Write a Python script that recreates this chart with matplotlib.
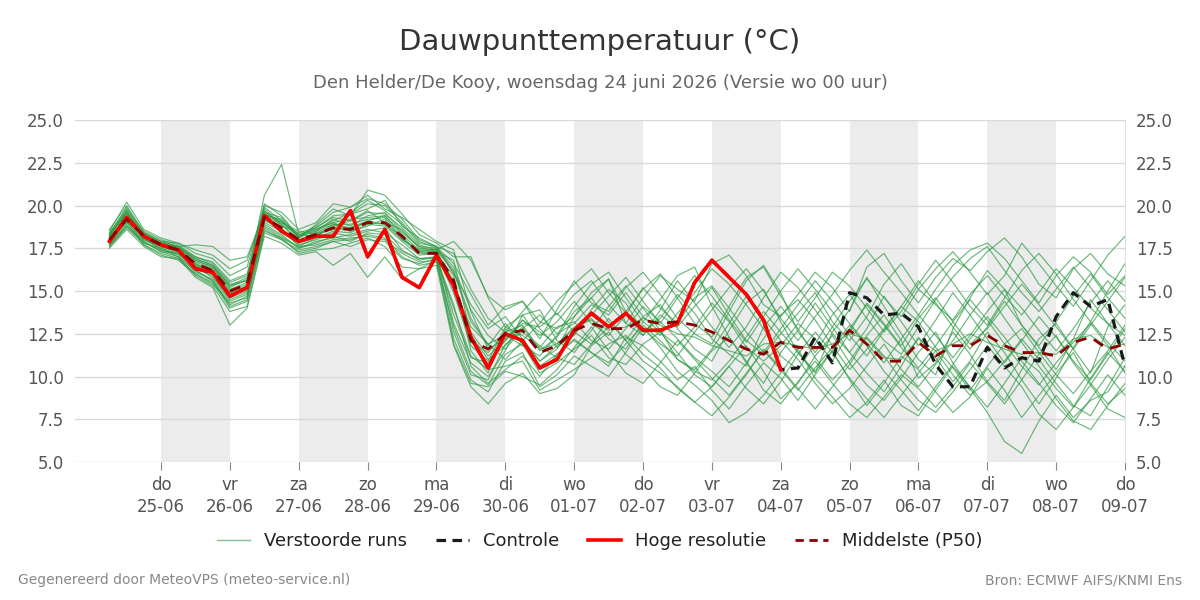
import matplotlib

matplotlib.use("Agg")
import matplotlib.pyplot as plt
import numpy as np
import pandas as pd
from matplotlib.lines import Line2D

plt.rcParams["font.family"] = ["DejaVu Sans"]

# 6-hourly steps, 24-06 06:00 .. 09-07 00:00 (60 steps)
start = "2026-06-24 06:00"
n_steps = 60
day_names = ["ma", "di", "wo", "do", "vr", "za", "zo"]

hires = [
    17.9, 19.3, 18.2, 17.7, 17.4, 16.3, 16.1, 14.7, 15.2, 19.4, 18.5, 17.9, 18.2, 18.2, 19.7, 17.0, 18.6, 15.8, 15.2, 17.1,
    15.3, 12.3, 10.5, 12.5, 12.1, 10.5, 11.0, 12.7, 13.7, 12.9, 13.7, 12.7, 12.7, 13.1, 15.5, 16.8, 15.8, 14.8, 13.3, 10.4,
]
control = [
    17.9, 19.3, 18.2, 17.7, 17.4, 16.3, 16.1, 14.7, 15.2, 19.4, 18.5, 17.9, 18.2, 18.2, 19.7, 17.0, 18.6, 15.8, 15.2, 17.1,
    15.3, 12.3, 10.5, 12.5, 12.1, 10.5, 11.0, 12.7, 13.7, 12.9, 13.7, 12.7, 12.7, 13.1, 15.5, 16.8, 15.8, 14.8, 13.3, 10.4,
    10.5, 12.3, 10.8, 14.9, 14.6, 13.6, 13.7, 12.9, 10.7, 9.4, 9.4, 11.7, 10.5, 11.1, 10.9, 13.5, 14.9, 14.1, 14.5, 10.6,
]
median = [
    18.0, 19.2, 18.2, 17.7, 17.4, 16.6, 16.2, 15.0, 15.4, 19.3, 18.7, 18.0, 18.3, 18.7, 18.6, 19.0, 19.0, 18.2, 17.2, 17.2,
    15.6, 12.1, 11.6, 12.5, 12.7, 11.4, 11.8, 12.7, 13.1, 12.8, 12.8, 13.3, 13.1, 13.2, 13.0, 12.6, 12.1, 11.6, 11.3, 12.0,
    11.7, 11.7, 11.7, 12.7, 11.9, 10.9, 10.9, 12.0, 11.2, 11.8, 11.8, 12.4, 11.8, 11.4, 11.4, 11.2, 12.0, 12.3, 11.6, 11.9,
]

members = [
    [18.2, 19.6, 18.0, 17.5, 17.2, 16.4, 15.8, 14.6, 15.0, 19.8, 18.9, 17.8, 18.5, 19.2, 18.8, 19.4, 19.6, 18.5, 17.6, 17.3,
     16.8, 12.4, 11.0, 11.8, 12.9, 11.5, 12.3, 13.8, 14.6, 13.2, 12.1, 13.5, 14.2, 12.8, 11.6, 10.9, 12.7, 14.3, 15.1, 13.2,
     11.4, 10.2, 12.6, 13.9, 15.8, 14.1, 12.5, 11.0, 10.1, 12.8, 14.6, 16.2, 15.1, 13.0, 11.7, 10.4, 12.2, 14.5, 13.1, 11.8],
    [17.8, 19.0, 18.4, 17.9, 17.6, 16.9, 16.5, 15.4, 15.6, 18.9, 18.3, 17.5, 17.9, 18.1, 18.3, 18.6, 18.4, 17.7, 16.9, 16.9,
     14.2, 10.6, 9.6, 10.4, 11.2, 10.0, 11.3, 12.1, 11.4, 10.6, 12.3, 11.8, 10.9, 9.8, 10.6, 9.2, 8.1, 9.5, 10.8, 9.9,
     8.6, 10.1, 11.5, 9.8, 8.3, 9.6, 11.2, 10.4, 9.1, 7.9, 8.8, 10.5, 9.2, 7.6, 8.9, 10.2, 11.4, 9.6, 8.4, 9.3],
    [18.5, 20.2, 18.6, 18.1, 17.8, 17.2, 16.9, 15.9, 16.4, 20.1, 19.4, 18.2, 18.8, 19.6, 19.9, 20.4, 20.1, 19.2, 18.0, 17.6,
     17.2, 15.1, 13.4, 12.6, 13.8, 14.9, 13.6, 14.8, 15.6, 14.2, 13.1, 14.6, 15.9, 15.1, 14.4, 16.6, 17.1, 15.9, 14.2, 13.5,
     14.8, 16.1, 15.2, 13.8, 16.4, 17.2, 15.6, 14.3, 15.8, 16.9, 16.2, 17.3, 18.1, 17.0, 15.4, 14.6, 16.3, 17.2, 16.0, 15.3],
    [18.0, 19.4, 18.1, 17.6, 17.3, 16.2, 15.6, 14.2, 14.7, 19.5, 19.1, 18.1, 18.6, 19.0, 18.5, 18.8, 19.2, 18.0, 17.3, 17.1,
     15.9, 11.5, 10.2, 12.8, 12.1, 10.9, 11.8, 12.4, 13.9, 15.1, 14.3, 12.6, 13.4, 14.8, 13.7, 12.2, 11.3, 10.6, 12.9, 14.1,
     12.8, 11.1, 9.8, 10.9, 12.4, 13.6, 12.1, 9.9, 10.8, 12.6, 11.3, 9.7, 8.6, 10.4, 12.2, 13.1, 11.6, 10.2, 12.9, 14.2],
    [17.6, 18.8, 17.9, 17.3, 17.0, 15.9, 15.3, 13.8, 14.1, 18.4, 18.0, 17.4, 17.6, 17.9, 18.0, 18.3, 18.1, 17.0, 16.5, 16.7,
     12.9, 10.3, 9.5, 11.3, 11.9, 10.2, 10.8, 11.6, 12.4, 11.1, 10.7, 11.9, 12.6, 11.4, 10.1, 9.4, 10.6, 11.8, 10.3, 8.7,
     9.6, 11.2, 12.4, 10.8, 9.5, 8.6, 9.9, 11.4, 12.6, 10.8, 9.3, 7.9, 6.2, 5.5, 7.4, 8.9, 7.6, 8.6, 9.1, 10.6],
    [18.3, 19.9, 18.3, 17.8, 17.5, 16.7, 16.3, 15.2, 15.7, 20.6, 22.4, 18.3, 18.2, 18.8, 19.1, 19.7, 19.0, 18.6, 17.5, 17.4,
     17.9, 16.8, 14.7, 13.9, 14.4, 13.2, 12.8, 13.5, 14.9, 15.7, 13.8, 12.4, 13.6, 12.9, 14.1, 15.2, 13.6, 12.1, 11.3, 12.5,
     13.7, 14.9, 13.2, 12.1, 13.5, 15.4, 16.6, 15.1, 14.2, 13.3, 14.8, 15.9, 14.7, 13.6, 14.9, 16.3, 15.2, 14.0, 13.1, 12.4],
    [17.9, 19.1, 17.7, 17.1, 16.8, 16.0, 15.5, 14.0, 14.4, 19.0, 18.5, 17.7, 18.0, 18.4, 18.2, 18.5, 18.7, 17.4, 16.8, 17.0,
     13.6, 11.1, 10.8, 12.1, 13.3, 12.6, 11.9, 12.8, 13.4, 12.2, 11.6, 13.2, 14.5, 15.9, 16.4, 14.1, 12.3, 10.8, 9.6, 11.4,
     12.7, 14.3, 12.9, 11.4, 10.2, 9.1, 10.6, 12.3, 11.1, 9.7, 10.9, 12.6, 11.4, 9.8, 8.4, 9.9, 11.7, 13.2, 12.0, 10.9],
    [18.4, 19.8, 18.5, 18.0, 17.7, 17.0, 16.6, 15.5, 15.9, 19.7, 18.8, 18.4, 18.7, 19.4, 19.5, 20.1, 20.0, 19.0, 17.9, 17.5,
     16.4, 13.9, 12.4, 11.6, 12.8, 13.6, 12.5, 13.1, 14.2, 13.6, 14.9, 13.5, 12.6, 11.8, 12.9, 14.3, 13.2, 11.7, 10.9, 11.8,
     13.1, 12.2, 10.9, 12.6, 14.3, 13.1, 11.8, 13.4, 14.6, 13.2, 11.9, 12.8, 14.1, 15.4, 14.2, 12.9, 11.6, 13.0, 14.4, 15.8],
    [17.7, 18.9, 17.8, 17.4, 17.1, 16.1, 15.7, 14.4, 14.8, 18.7, 18.1, 17.2, 17.4, 17.5, 17.8, 18.1, 17.6, 16.4, 16.3, 16.8,
     12.2, 9.8, 9.1, 10.9, 11.4, 9.4, 10.1, 11.2, 10.6, 10.0, 11.4, 12.9, 11.7, 10.3, 9.5, 8.6, 7.3, 7.9, 8.9, 10.2,
     11.6, 9.9, 8.8, 7.6, 8.5, 9.8, 8.3, 7.7, 9.2, 10.6, 9.4, 8.2, 9.6, 11.1, 10.3, 8.7, 7.4, 6.9, 8.3, 9.6],
    [18.1, 19.3, 18.3, 17.8, 17.4, 16.5, 16.0, 14.8, 15.3, 19.2, 18.6, 17.9, 18.4, 18.9, 18.7, 19.1, 19.4, 18.3, 17.4, 17.3,
     15.2, 12.9, 11.9, 12.4, 11.8, 11.2, 12.4, 14.1, 15.4, 16.1, 14.6, 13.2, 12.4, 13.7, 14.9, 16.3, 15.4, 14.2, 12.8, 11.2,
     10.4, 11.9, 13.6, 14.8, 13.4, 12.1, 11.3, 12.9, 14.5, 15.8, 16.9, 17.6, 16.2, 14.9, 13.8, 15.1, 16.4, 15.2, 13.9, 12.6],
    [17.5, 18.6, 17.6, 17.0, 16.9, 15.8, 15.2, 13.0, 14.0, 18.2, 17.8, 17.1, 17.3, 16.5, 17.2, 15.8, 17.0, 15.7, 16.3, 16.5,
     11.8, 9.4, 8.4, 9.6, 10.2, 9.0, 9.3, 10.1, 11.8, 12.6, 11.3, 10.5, 9.4, 8.9, 10.2, 11.5, 12.3, 10.9, 9.2, 8.4,
     9.7, 10.9, 9.6, 8.4, 7.6, 8.8, 10.1, 9.3, 8.2, 9.4, 10.8, 9.6, 8.4, 9.8, 11.3, 12.4, 10.8, 9.5, 8.1, 7.6],
    [18.3, 19.5, 18.2, 17.7, 17.5, 16.8, 16.4, 15.1, 15.5, 19.4, 19.2, 18.1, 18.9, 19.8, 19.4, 20.9, 20.6, 19.5, 18.3, 17.8,
     17.0, 17.0, 14.6, 12.9, 13.6, 12.2, 13.9, 15.6, 14.3, 13.8, 15.2, 16.1, 14.8, 13.4, 12.5, 11.9, 13.8, 15.6, 16.5, 14.9,
     12.6, 11.4, 12.9, 14.4, 15.7, 14.6, 13.5, 15.1, 16.3, 17.3, 16.1, 14.8, 15.9, 17.8, 16.6, 15.3, 14.1, 15.6, 17.1, 18.2],
    [18.0, 19.0, 18.0, 17.6, 17.3, 16.6, 16.1, 14.9, 15.2, 19.1, 18.7, 17.6, 18.1, 18.5, 18.4, 18.9, 18.8, 17.9, 17.1, 17.2,
     14.9, 11.8, 10.9, 12.9, 12.4, 11.7, 12.9, 13.2, 12.1, 11.6, 12.8, 14.1, 13.2, 12.2, 11.1, 10.3, 9.4, 10.8, 12.2, 13.6,
     14.5, 13.3, 11.8, 10.4, 11.6, 12.8, 14.1, 13.2, 11.7, 10.5, 9.2, 10.6, 11.9, 12.8, 11.4, 10.1, 9.0, 10.3, 11.5, 13.0],
    [18.6, 20.0, 18.4, 17.9, 17.8, 17.4, 17.1, 16.3, 16.8, 19.6, 19.0, 18.5, 18.3, 18.6, 19.5, 19.8, 20.3, 18.8, 18.1, 17.6,
     16.0, 14.2, 12.8, 13.5, 12.2, 10.9, 11.6, 13.5, 14.6, 15.7, 13.1, 12.4, 13.9, 15.6, 14.3, 12.9, 11.7, 12.9, 14.6, 16.1,
     15.2, 13.9, 12.5, 11.4, 12.8, 14.7, 13.2, 11.8, 13.3, 14.9, 13.6, 12.2, 10.8, 12.1, 13.5, 12.3, 10.9, 9.8, 11.3, 12.8],
    [17.8, 19.2, 18.1, 17.4, 17.2, 16.3, 15.9, 14.5, 14.9, 19.3, 18.4, 17.8, 18.2, 18.9, 18.9, 19.2, 19.3, 18.1, 17.3, 17.3,
     13.1, 10.8, 10.0, 11.5, 13.6, 13.9, 12.1, 11.4, 12.7, 14.1, 15.3, 14.0, 12.7, 11.0, 10.4, 11.6, 13.1, 14.7, 13.4, 12.1,
     11.0, 9.6, 8.4, 9.3, 10.6, 11.9, 10.4, 9.4, 10.7, 12.1, 13.6, 14.9, 13.4, 12.0, 10.6, 9.3, 8.2, 9.5, 11.0, 12.3],
    [18.2, 19.7, 18.3, 17.7, 17.6, 17.0, 16.7, 15.6, 16.0, 20.0, 19.6, 18.6, 19.0, 20.1, 19.9, 20.6, 19.8, 19.3, 18.6, 17.9,
     17.4, 13.8, 11.6, 12.2, 13.1, 12.9, 13.7, 12.6, 11.9, 12.9, 13.8, 15.1, 16.0, 14.6, 13.1, 12.3, 14.1, 15.8, 16.4, 14.7,
     13.2, 14.6, 16.1, 15.3, 14.0, 12.6, 13.8, 15.4, 16.8, 15.5, 14.1, 13.0, 14.6, 16.2, 17.2, 16.0, 14.5, 13.2, 15.0, 16.6],
    [17.9, 19.1, 17.9, 17.3, 17.2, 16.4, 16.0, 14.7, 15.1, 18.8, 18.2, 17.5, 17.8, 18.2, 17.9, 18.4, 18.3, 17.3, 16.9, 17.0,
     12.6, 10.1, 9.8, 11.9, 12.6, 11.8, 11.1, 10.7, 11.9, 13.4, 12.1, 10.9, 10.2, 9.4, 8.5, 7.7, 8.8, 10.1, 11.6, 10.5,
     9.3, 8.1, 9.4, 10.7, 12.3, 11.2, 9.8, 8.6, 7.9, 9.1, 10.4, 11.8, 10.6, 9.4, 7.8, 6.9, 8.2, 9.9, 11.4, 10.3],
    [18.1, 19.4, 18.2, 17.6, 17.4, 16.6, 16.2, 15.0, 15.4, 19.4, 18.9, 18.0, 18.4, 18.6, 18.7, 19.0, 18.9, 18.2, 17.2, 17.2,
     15.6, 12.0, 11.4, 12.6, 13.0, 11.6, 11.9, 12.9, 13.3, 12.7, 12.9, 13.4, 13.0, 12.5, 12.3, 11.8, 11.5, 11.2, 11.9, 12.0,
     11.8, 11.6, 11.9, 12.5, 12.2, 11.1, 11.0, 12.2, 11.5, 11.9, 12.5, 12.0, 11.6, 11.3, 11.4, 11.3, 12.2, 12.4, 11.7, 11.9],
    [18.4, 19.7, 18.2, 17.8, 17.6, 17.7, 17.6, 16.8, 17.0, 19.6, 19.3, 18.2, 18.7, 19.3, 19.1, 19.6, 19.5, 18.7, 17.7, 17.4,
     16.1, 13.2, 11.9, 11.0, 12.1, 13.1, 14.4, 15.4, 16.3, 14.9, 13.7, 12.8, 11.9, 11.2, 12.6, 13.9, 15.2, 16.3, 15.0, 13.4,
     12.1, 13.5, 14.8, 16.2, 17.4, 16.1, 14.9, 13.6, 15.1, 16.5, 17.4, 17.8, 16.9, 15.6, 14.3, 15.9, 17.0, 16.1, 14.8, 15.9],
    [17.7, 18.8, 17.7, 17.2, 16.9, 16.0, 15.4, 14.3, 14.6, 18.6, 18.0, 17.3, 17.5, 17.9, 17.6, 18.0, 17.9, 16.9, 16.6, 16.9,
     14.0, 11.2, 10.4, 10.6, 10.9, 9.2, 9.8, 10.4, 11.1, 11.9, 12.4, 11.3, 10.5, 9.3, 8.5, 9.4, 10.6, 9.3, 8.4, 9.7,
     11.3, 12.6, 11.4, 9.9, 8.7, 7.6, 8.9, 10.2, 11.5, 10.1, 8.9, 9.7, 10.9, 12.2, 11.0, 9.6, 8.3, 7.7, 9.4, 11.1],
    [18.3, 19.5, 18.4, 17.9, 17.6, 16.8, 16.4, 15.3, 15.8, 19.9, 19.1, 18.3, 18.6, 19.1, 19.6, 20.3, 19.7, 18.9, 17.8, 17.6,
     16.6, 14.8, 13.0, 14.1, 14.4, 12.8, 11.7, 12.5, 13.6, 14.7, 15.8, 14.4, 13.1, 14.6, 15.9, 14.7, 13.3, 12.0, 13.5, 15.0,
     16.3, 15.1, 13.8, 12.4, 11.2, 12.7, 14.1, 15.6, 14.3, 12.9, 11.6, 12.9, 14.4, 13.0, 11.8, 13.2, 14.7, 16.0, 14.6, 13.4],
    [17.6, 18.7, 17.8, 17.5, 17.0, 16.2, 15.6, 14.1, 14.5, 18.5, 18.1, 17.6, 17.7, 18.0, 18.1, 18.2, 18.0, 17.2, 16.7, 16.8,
     11.9, 9.6, 9.4, 10.3, 10.0, 9.5, 10.4, 11.7, 12.9, 11.5, 10.2, 9.6, 10.8, 12.1, 11.0, 9.9, 8.9, 10.2, 11.5, 10.4,
     9.2, 10.5, 11.7, 13.0, 11.8, 10.3, 9.2, 8.0, 9.4, 10.7, 12.2, 13.5, 12.3, 10.9, 9.6, 8.3, 7.3, 8.7, 10.1, 8.9],
    [18.0, 19.3, 18.1, 17.6, 17.3, 16.5, 16.2, 14.9, 15.3, 19.2, 18.6, 17.9, 18.3, 18.7, 18.5, 19.1, 18.9, 18.0, 17.4, 17.4,
     15.4, 12.6, 11.2, 12.1, 13.3, 12.4, 13.2, 14.4, 13.1, 12.4, 13.6, 15.2, 14.0, 13.1, 14.6, 15.3, 14.0, 12.6, 11.4, 12.8,
     14.2, 15.6, 14.4, 13.1, 11.9, 10.8, 12.2, 13.6, 12.4, 11.1, 12.4, 13.8, 15.1, 14.0, 12.7, 11.5, 12.8, 14.3, 15.6, 14.4],
    [18.2, 19.6, 18.3, 17.8, 17.5, 16.9, 16.5, 15.3, 15.6, 19.5, 19.0, 18.2, 18.5, 19.0, 19.2, 19.3, 19.4, 18.4, 17.6, 17.5,
     16.2, 13.4, 11.8, 13.1, 11.9, 10.6, 11.3, 12.2, 11.4, 10.8, 11.9, 13.0, 12.1, 11.0, 10.3, 9.8, 10.9, 12.3, 13.8, 12.6,
     11.4, 10.3, 11.5, 12.8, 14.2, 13.0, 11.7, 10.5, 11.8, 13.2, 14.5, 13.3, 11.9, 10.6, 9.5, 10.8, 12.0, 13.1, 11.8, 10.2],
]

times = pd.date_range(start, periods=n_steps, freq="6h")
days = pd.date_range("2026-06-25", "2026-07-09", freq="D")

fig = plt.figure(figsize=(12, 6), dpi=100)
ax = fig.add_axes([0.0625, 0.23, 0.875, 0.57])

# alternating day shading
for day in days[::2][:-1]:
    ax.axvspan(day, day + pd.Timedelta(days=1), color="#ececec", lw=0, zorder=0)

for member in members:
    ax.plot(times[: len(member)], member, color="#2e9a44", lw=0.85, alpha=0.7, zorder=2)
ax.plot(times[: len(control)], control, color="#1a1a1a", lw=2.3, ls=(0, (3, 2)), zorder=3)
ax.plot(times[: len(hires)], hires, color="#ff0000", lw=2.6, zorder=4)
ax.plot(times[: len(median)], median, color="#8b0000", lw=2.0, ls=(0, (4, 3)), zorder=5)

ax.set_xlim(pd.Timestamp("2026-06-23 18:00"), days[-1])
ax.set_ylim(5, 25)
ax.set_yticks(np.arange(5, 25.1, 2.5))
ax.yaxis.set_major_formatter(matplotlib.ticker.FormatStrFormatter("%.1f"))
ax.grid(axis="y", color="#d9d9d9", lw=1)
ax.set_axisbelow(True)
ax.set_xticks(days)
ax.set_xticklabels([f"{day_names[d.weekday()]}\n{d:%d-%m}" for d in days], linespacing=1.3)
ax.tick_params(axis="x", length=6, color="#888888", labelcolor="#555555", labelsize=12, pad=4)
ax.tick_params(axis="y", length=0, labelcolor="#555555", labelsize=12, labelright=True, pad=8)
for side in ["top", "left", "bottom"]:
    ax.spines[side].set_visible(False)
ax.spines["right"].set_color("#e0e0e0")

fig.text(0.5, 0.93, "Dauwpunttemperatuur (°C)", ha="center", va="center", fontsize=21, color="#333333")
fig.text(0.5, 0.861, "Den Helder/De Kooy, woensdag 24 juni 2026 (Versie wo 00 uur)",
         ha="center", va="center", fontsize=13, color="#666666")

handles = [
    Line2D([], [], color="#7fc08a", lw=1),
    Line2D([], [], color="#1a1a1a", lw=2.3, ls=(0, (3, 2))),
    Line2D([], [], color="#ff0000", lw=2.6),
    Line2D([], [], color="#8b0000", lw=2.0, ls=(0, (3, 2))),
]
fig.legend(handles, ["Verstoorde runs", "Controle", "Hoge resolutie", "Middelste (P50)"],
           loc="center", bbox_to_anchor=(0.5, 0.098), ncol=4, frameon=False, fontsize=13,
           handlelength=1.8, columnspacing=1.6, labelcolor="#222222")

fig.text(0.015, 0.033, "Gegenereerd door MeteoVPS (meteo-service.nl)", ha="left", va="center", fontsize=10, color="#888888")
fig.text(0.985, 0.033, "Bron: ECMWF AIFS/KNMI Ens", ha="right", va="center", fontsize=10, color="#888888")

fig.savefig("out.png", dpi=100)
